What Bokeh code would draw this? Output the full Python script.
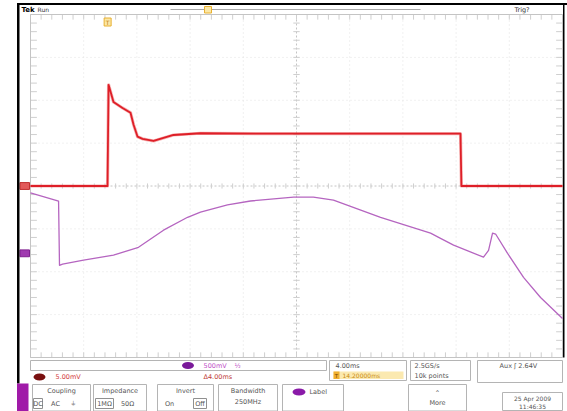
import numpy as np
from bokeh.plotting import figure
from bokeh.models import Range1d
from bokeh.core.properties import value
from bokeh.embed import file_html
from bokeh.resources import INLINE

# ---------------- data (time in ms, amplitude in divisions) ----------------
TIME_PER_DIV = 4.0          # ms/div
H_POSITION = 14.2           # ms at graticule centre
CH1_OFFSET = 0.0            # div, ground marker of channel 1
CH4_OFFSET = -1.57          # div, ground marker of channel 4

ch1_t = [-5.8, -0.16, -0.01, 0.07, 0.44, 1.12, 1.72, 1.95, 2.25, 2.62, 3.45,
         4.20, 4.95, 6.98, 12.0, 18.0, 26.53, 26.6, 34.2]
ch1_v = [0.0, 0.0, 0.0, 2.36, 1.96, 1.82, 1.71, 1.43, 1.15, 1.10, 1.05,
         1.12, 1.19, 1.23, 1.22, 1.22, 1.22, 0.0, 0.0]

ch4_t = [-5.80, -3.69, -3.62, -3.39, -1.81, 0.44, 2.32, 4.20, 6.01, 6.98, 9.01,
         10.74, 13.98, 15.47, 16.98, 20.52, 24.28, 25.03, 26.01, 28.26, 28.64,
         28.94, 29.17, 30.07, 31.27, 32.55, 34.20]
ch4_v = [-0.16, -0.35, -1.85, -1.82, -1.73, -1.61, -1.43, -1.03, -0.73, -0.61, -0.44,
         -0.35, -0.26, -0.26, -0.33, -0.73, -1.10, -1.22, -1.38, -1.66, -1.50,
         -1.10, -1.12, -1.57, -2.13, -2.60, -3.09]

# readout texts
ch4_scale = "500mV"
ch1_scale = "5.00mV"
delta_text = "Δ4.00ms"
timebase = "4.00ms"
hpos_text = "14.20000ms"
sample_rate = "2.5GS/s"
record_len = "10k points"
trig_text = "Aux  ʃ  2.64V"
date_text = "25 Apr 2009"
time_text = "11:46:35"

# ---------------- layout constants (page pixels) ----------------
W, H = 567, 411
FX0, FX1, FY0, FY1 = 0, W, 0, H
GX0, GX1, GY0, GY1 = 30, 562, 14, 357
t0 = H_POSITION - 5 * TIME_PER_DIV
t1 = H_POSITION + 5 * TIME_PER_DIV
ms_px = (t1 - t0) / (GX1 - GX0)
dv_px = 8.0 / (GY1 - GY0)

p = figure(width=W, height=H, output_backend="svg", toolbar_location=None,
           x_range=Range1d(t0 - (GX0 - FX0) * ms_px, t1 + (FX1 - GX1) * ms_px),
           y_range=Range1d(-4 - (FY1 - GY1) * dv_px, 4 + (GY0 - FY0) * dv_px),
           x_axis_location=None, y_axis_location=None,
           min_border=0, outline_line_color=None)
p.extra_x_ranges = {"px": Range1d(FX0, FX1)}
p.extra_y_ranges = {"py": Range1d(FY1, FY0)}
p.grid.visible = False
p.background_fill_color = "white"
p.border_fill_color = "white"

FONT = value("DejaVu Sans")
PX = dict(x_range_name="px", y_range_name="py")

# ---------------- graticule ----------------
div_t = [t0 + TIME_PER_DIV * i for i in range(11)]
div_v = list(range(-4, 5))
inner_t = [t for i, t in enumerate(div_t) if i not in (0, 5, 10)]
inner_v = [v for v in div_v if v not in (-4, 0, 4)]
p.segment(x0=inner_t, x1=inner_t, y0=[-4] * len(inner_t), y1=[4] * len(inner_t),
          line_color="#e2e2e2", line_dash="1 3", line_width=1)
p.segment(x0=[t0] * len(inner_v), x1=[t1] * len(inner_v), y0=inner_v, y1=inner_v,
          line_color="#e2e2e2", line_dash="1 3", line_width=1)
# centre cross
p.segment(x0=[H_POSITION, t0], x1=[H_POSITION, t1], y0=[-4, 0], y1=[4, 0],
          line_color="#c4c4c4", line_dash="2 2", line_width=1)
# minor ticks
sub_t = np.arange(t0, t1 + 1e-6, TIME_PER_DIV / 5)
sub_v = np.arange(-4, 4 + 1e-6, 0.2)
tk = 0.06
for yc in (0, -4 + tk, 4 - tk):
    p.segment(x0=sub_t, x1=sub_t, y0=[yc - tk] * len(sub_t), y1=[yc + tk] * len(sub_t),
              line_color="#cfcfcf", line_width=1)
tkx = 0.06 * TIME_PER_DIV
for xc in (H_POSITION, t0 + tkx, t1 - tkx):
    p.segment(x0=[xc - tkx] * len(sub_v), x1=[xc + tkx] * len(sub_v), y0=sub_v, y1=sub_v,
              line_color="#cfcfcf", line_width=1)
p.quad(left=[t0], right=[t1], bottom=[-4], top=[4], fill_color=None,
       line_color="#c4c4c4", line_width=1)

# ---------------- traces ----------------
p.line(ch4_t, ch4_v, line_color="#b565c0", line_width=1.3, line_join="round")
p.line(ch1_t, ch1_v, line_color="#f08080", line_width=3.2, line_join="round", line_alpha=0.6)
p.line(ch1_t, ch1_v, line_color="#de1f28", line_width=1.8, line_join="round")

# ground markers
p.quad(left=[19.5], right=[29], top=[CH1_OFFSET + 0.08], bottom=[CH1_OFFSET - 0.08],
       fill_color="#e25a5a", line_color="#c03030", x_range_name="px")
p.quad(left=[19.5], right=[29], top=[CH4_OFFSET + 0.08], bottom=[CH4_OFFSET - 0.08],
       fill_color="#a03ab0", line_color="#802090", x_range_name="px")
# trigger point marker
p.rect(x=[0], y=[21.5], width=7, height=8, width_units="screen", height_units="screen",
       fill_color="#fbe7a6", line_color="#e8b030", y_range_name="py")
p.text(x=[0], y=[21.5], text=["T"], text_font=FONT, text_font_size="6px",
       text_color="#c08010", text_align="center", text_baseline="middle", y_range_name="py")

# ---------------- frame / header ----------------
p.quad(left=[17], right=[FX1], top=[2.5], bottom=[4.5], fill_color="black",
       line_color=None, **PX)
p.quad(left=[16.5], right=[19], top=[2.5], bottom=[383], fill_color="black",
       line_color=None, **PX)
p.quad(left=[562.5], right=[564], top=[2.5], bottom=[357], fill_color="black",
       line_color=None, **PX)
p.segment(x0=[170], x1=[420], y0=[9], y1=[9], line_color="#a8a8a8", line_width=1, **PX)
p.quad(left=[204], right=[211], top=[6], bottom=[12.5], fill_color="#fbe7a6",
       line_color="#e8b030", **PX)
p.text(x=[21], y=[9], text=["Tek"], text_font=FONT, text_font_size="7px",
       text_font_style="bold", text_color="black", text_baseline="middle", **PX)
p.text(x=[37], y=[9], text=["Run"], text_font=FONT, text_font_size="6px",
       text_color="#333333", text_baseline="middle", **PX)
p.text(x=[514], y=[9.5], text=["Trig?"], text_font=FONT, text_font_size="6.5px",
       text_color="#333333", text_baseline="middle", **PX)

# ---------------- bottom panel ----------------
boxes_l = [30, 329, 410, 477, 32, 93, 157, 218, 282, 408, 502]
boxes_r = [326, 406, 470, 562, 90, 146, 213, 277, 343, 466, 562]
boxes_t = [360, 360, 360, 360, 384, 384, 384, 384, 384, 384, 392]
boxes_b = [370, 380, 380, 382, 410.5, 410.5, 410.5, 410.5, 410.5, 410.5, 410]
p.quad(left=boxes_l, right=boxes_r, top=boxes_t, bottom=boxes_b,
       fill_color="white", line_color="#b4b4b4", line_width=1, **PX)
# highlighted horizontal position line
p.quad(left=[333], right=[403], top=[371], bottom=[378.5], fill_color="#fbe9b0",
       line_color=None, **PX)
p.quad(left=[333], right=[339], top=[371], bottom=[378.5], fill_color="#f0b030",
       line_color=None, **PX)
# small selection boxes (DC, 1MOhm, Off)
p.quad(left=[33, 95, 193], right=[42, 113, 206], top=[398, 398, 398], bottom=[408, 408, 408],
       fill_color=None, line_color="#909090", line_width=1, **PX)
# magenta side tab
p.quad(left=[16.5], right=[28], top=[383], bottom=[FY1], fill_color="#a01aa8",
       line_color=None, **PX)
# channel ellipses
p.ellipse(x=[187.5, 39, 298.5], y=[365, 376.5, 391.5], width=[12, 12, 13], height=[7, 7, 7],
          width_units="screen", height_units="screen",
          fill_color=["#7a1a9a", "#7a1010", "#8a1aa8"], line_color=None, **PX)


def txt(xs, ys, texts, color="#555555", size="6.5px", align="left", style="normal"):
    p.text(x=xs, y=ys, text=texts, text_font=FONT, text_font_size=size,
           text_color=color, text_align=align, text_baseline="middle",
           text_font_style=style, **PX)


txt([203], [365], [ch4_scale], color="#c050c8")
txt([234], [365], ["½"], color="#c050c8")
txt([55], [376.5], [ch1_scale], color="#d23a3a")
txt([203], [376.5], [delta_text], color="#c0403a")
txt([335], [365], [timebase])
txt([336], [375], ["T"], color="#7a4a00", size="5.5px", align="center")
txt([342], [375], [hpos_text], color="#c88a10", size="6px")
txt([414, 414], [365, 375], [sample_rate, record_len])
txt([520], [365.5], [trig_text], align="center")
txt([61, 119.5, 185, 247.5], [390, 390, 390, 390], ["Coupling", "Impedance", "Invert", "Bandwidth"],
    align="center")
txt([37.5, 55, 73], [403, 403, 403], ["DC", "AC", "⏚"], align="center")
txt([104, 127], [403, 403], ["1MΩ", "50Ω"], align="center")
txt([169, 199.5], [403, 403], ["On", "Off"], align="center")
txt([247.5], [401], ["250MHz"], align="center")
txt([309], [391.5], ["Label"])
txt([437, 437], [392, 402], ["⌃", "More"], align="center")
txt([532, 532], [397.5, 405.5], [date_text, time_text], size="6px", align="center")

open("out.html", "w").write(file_html(p, INLINE))
